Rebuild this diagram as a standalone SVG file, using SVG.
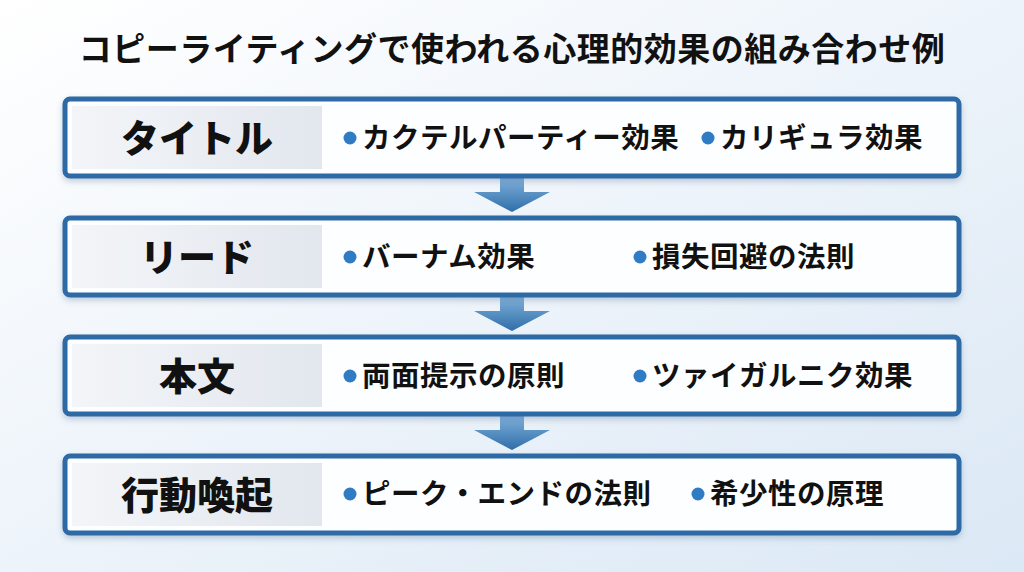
<svg xmlns="http://www.w3.org/2000/svg" width="1024" height="572" viewBox="0 0 1024 572">
<defs>
<linearGradient id="bg" x1="0" y1="0" x2="1" y2="1"><stop offset="0" stop-color="#ffffff"/><stop offset="1" stop-color="#dbe8f5"/></linearGradient>
<linearGradient id="lab" x1="0" y1="0" x2="1" y2="0"><stop offset="0" stop-color="#f3f5f8"/><stop offset="1" stop-color="#e2e7ee"/></linearGradient>
<linearGradient id="arr" x1="0" y1="0" x2="0" y2="1"><stop offset="0" stop-color="#7fb0db"/><stop offset="1" stop-color="#2f6ea8"/></linearGradient>
<filter id="sh" x="-5%" y="-20%" width="110%" height="150%"><feDropShadow dx="0" dy="3" stdDeviation="3" flood-color="#5a7a9a" flood-opacity="0.35"/></filter>
</defs>
<style>
.box{fill:#fdfeff;stroke:#2e6aa6;stroke-width:5;filter:url(#sh)}
.lab{fill:url(#lab)}
.h{font-family:"Noto Sans CJK JP",sans-serif;font-weight:900;font-size:38px;fill:#111;text-anchor:middle}
.t{font-family:"Noto Sans CJK JP",sans-serif;font-weight:700;font-size:28.5px;letter-spacing:0.5px;fill:#111}
.dot{fill:#2f7cc4}
.title{font-family:"Noto Sans CJK JP",sans-serif;font-weight:700;font-size:33px;letter-spacing:0.5px;fill:#111;text-anchor:middle}
</style>
<rect width="1024" height="572" fill="url(#bg)"/>
<text class="title" x="512" y="61">コピーライティングで使われる心理的効果の組み合わせ例</text>
<g id="connectors">
<path d="M500 178H524V192H550L512 212L474 192H500Z" fill="url(#arr)"/>
<path d="M500 297H524V311H550L512 331L474 311H500Z" fill="url(#arr)"/>
<path d="M500 416H524V430H550L512 450L474 430H500Z" fill="url(#arr)"/>
</g>
<g id="n1"><rect class="box" x="65" y="99" width="894" height="77" rx="5"/><rect class="lab" x="72" y="106" width="250" height="63"/><text class="h" x="197" y="152">タイトル</text>
<circle class="dot" cx="350" cy="138" r="6.5"/><text class="t" x="362" y="148">カクテルパーティー効果</text>
<circle class="dot" cx="708" cy="138" r="6.5"/><text class="t" x="720" y="148">カリギュラ効果</text></g>
<g id="n2"><rect class="box" x="65" y="218" width="894" height="77" rx="5"/><rect class="lab" x="72" y="225" width="250" height="63"/><text class="h" x="197" y="271">リード</text>
<circle class="dot" cx="350" cy="257" r="6.5"/><text class="t" x="362" y="267">バーナム効果</text>
<circle class="dot" cx="640" cy="257" r="6.5"/><text class="t" x="652" y="267">損失回避の法則</text></g>
<g id="n3"><rect class="box" x="65" y="337" width="894" height="77" rx="5"/><rect class="lab" x="72" y="344" width="250" height="63"/><text class="h" x="197" y="390">本文</text>
<circle class="dot" cx="350" cy="376" r="6.5"/><text class="t" x="362" y="386">両面提示の原則</text>
<circle class="dot" cx="640" cy="376" r="6.5"/><text class="t" x="652" y="386">ツァイガルニク効果</text></g>
<g id="n4"><rect class="box" x="65" y="456" width="894" height="77" rx="5"/><rect class="lab" x="72" y="463" width="250" height="63"/><text class="h" x="197" y="509">行動喚起</text>
<circle class="dot" cx="350" cy="494" r="6.5"/><text class="t" x="362" y="504">ピーク・エンドの法則</text>
<circle class="dot" cx="698" cy="494" r="6.5"/><text class="t" x="710" y="504">希少性の原理</text></g>
</svg>
